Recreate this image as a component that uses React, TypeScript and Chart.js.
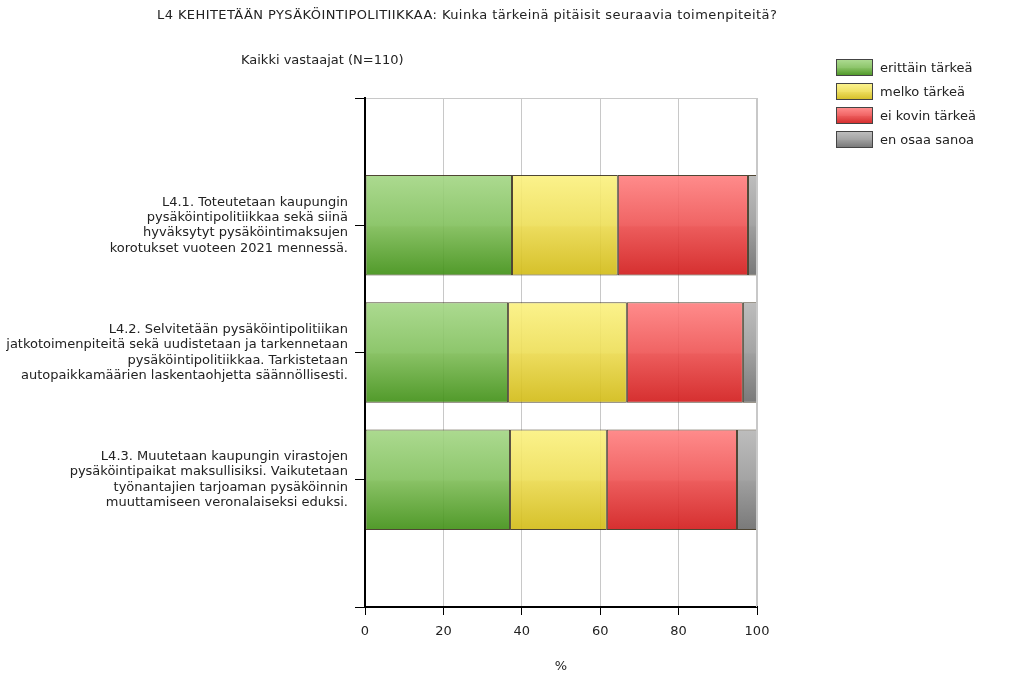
import React, { useEffect, useRef } from 'react';
import { Chart, registerables } from 'chart.js';
Chart.register(...registerables);

const TITLE = 'L4 KEHITETÄÄN PYSÄKÖINTIPOLITIIKKAA: Kuinka tärkeinä pitäisit seuraavia toimenpiteitä?';
const SUBTITLE = 'Kaikki vastaajat (N=110)';
const categories: string[][] = [
  ['L4.1. Toteutetaan kaupungin', 'pysäköintipolitiikkaa sekä siinä', 'hyväksytyt pysäköintimaksujen', 'korotukset vuoteen 2021 mennessä.'],
  ['L4.2. Selvitetään pysäköintipolitiikan', 'jatkotoimenpiteitä sekä uudistetaan ja tarkennetaan', 'pysäköintipolitiikkaa. Tarkistetaan', 'autopaikkamäärien laskentaohjetta säännöllisesti.'],
  ['L4.3. Muutetaan kaupungin virastojen', 'pysäköintipaikat maksullisiksi. Vaikutetaan', 'työnantajien tarjoaman pysäköinnin', 'muuttamiseen veronalaiseksi eduksi.'],
];
const seriesNames = ['erittäin tärkeä', 'melko tärkeä', 'ei kovin tärkeä', 'en osaa sanoa'];
const veryImportant = [37.5, 36.5, 37.0];
const fairlyImportant = [27.0, 30.3, 24.7];
const notVeryImportant = [33.2, 29.6, 33.2];
const cannotSay = [2.3, 3.6, 5.1];
const xMin = 0;
const xMax = 100;
const xStep = 20;
const xAxisTitle = '%';

const FONT = '"DejaVu Sans", Verdana, sans-serif';
const TEXT = '#222';
const BAR_PCT = 0.79;

type Stop = [number, string];
const palettes: Stop[][] = [
  [[0, '#acda90'], [0.5, '#8ec66c'], [0.52, '#88c164'], [1, '#519a2b']],
  [[0, '#fbf28c'], [0.5, '#efe167'], [0.52, '#ecdc5d'], [1, '#d6c12b']],
  [[0, '#ff8c8c'], [0.5, '#f06464'], [0.52, '#ec5c5c'], [1, '#d63030']],
  [[0, '#bdbdbd'], [0.5, '#a4a4a4'], [0.52, '#9f9f9f'], [1, '#7a7a7a']],
];

function withAlpha(hex: string, a: number) {
  const r = parseInt(hex.slice(1, 3), 16), g = parseInt(hex.slice(3, 5), 16), b = parseInt(hex.slice(5, 7), 16);
  // stored colour so that, blended over white with alpha a, it shows the target colour
  const f = (v: number) => Math.max(0, Math.min(255, Math.round((v - 255 * (1 - a)) / a)));
  return `rgba(${f(r)},${f(g)},${f(b)},${a})`;
}

const ALPHA = 0.9;

function makeFill(stops: Stop[]) {
  return (ctx: any) => {
    const chart = ctx.chart;
    const y = chart.scales && chart.scales.y;
    if (!chart.chartArea || !y || ctx.dataIndex === undefined) return withAlpha(stops[1][1], ALPHA);
    const c = y.getPixelForValue(ctx.dataIndex);
    const slot = Math.abs(y.getPixelForValue(1) - y.getPixelForValue(0));
    const half = (slot * BAR_PCT) / 2;
    const g = chart.ctx.createLinearGradient(0, c - half, 0, c + half);
    stops.forEach(([o, col]) => g.addColorStop(o, withAlpha(col, ALPHA)));
    return g;
  };
}

export default function App() {
  const ref = useRef<HTMLCanvasElement | null>(null);
  useEffect(() => {
    if (!ref.current) return;
    const labels: any[] = ['', ...categories, ''];
    const pad = (arr: number[]) => [null, ...arr, null];
    const series = [veryImportant, fairlyImportant, notVeryImportant, cannotSay];
    const chart = new Chart(ref.current, {
      type: 'bar',
      data: {
        labels,
        datasets: series.map((s, i) => ({
          label: seriesNames[i],
          data: pad(s) as any,
          backgroundColor: makeFill(palettes[i]) as any,
          borderColor: 'rgba(60,50,30,0.9)',
          borderWidth: 1,
          borderSkipped: false,
          barPercentage: BAR_PCT,
          categoryPercentage: 1,
        })),
      },
      options: {
        indexAxis: 'y',
        responsive: false,
        animation: false,
        layout: { padding: { top: 98, right: 267, left: 0, bottom: 0 } },
        plugins: { legend: { display: false }, tooltip: { enabled: false }, title: { display: false } },
        scales: {
          x: {
            type: 'linear',
            stacked: true,
            min: xMin,
            max: xMax,
            ticks: { stepSize: xStep, color: TEXT, font: { family: FONT, size: 13 }, padding: 9 },
            grid: {
              color: (c: any) => (c.index === 0 ? 'rgba(0,0,0,0)' : '#c8c8c8'),
              tickColor: '#000',
              tickLength: 8,
              lineWidth: 1,
            },
            border: { color: '#000', width: 2 },
            title: { display: true, text: xAxisTitle, color: TEXT, font: { family: FONT, size: 13 }, padding: { top: 0, bottom: 3 } },
            afterFit: (s: any) => { s.height = 70; },
          },
          y: {
            type: 'category',
            stacked: true,
            offset: false,
            ticks: { color: TEXT, font: { family: FONT, size: 13, lineHeight: 1.18 }, padding: 7, autoSkip: false },
            grid: {
              offset: false,
              color: (c: any) => (c.index === 0 ? '#c8c8c8' : 'rgba(0,0,0,0)'),
              tickColor: '#000',
              tickLength: 10,
              lineWidth: 1,
            },
            border: { color: '#000', width: 2 },
            afterFit: (s: any) => { s.width = 365; },
          },
        },
      },
      plugins: [
        {
          id: 'rightBorder',
          afterDraw(ch: any) {
            const { ctx, chartArea } = ch;
            ctx.save();
            ctx.strokeStyle = '#c8c8c8';
            ctx.lineWidth = 1;
            ctx.beginPath();
            ctx.moveTo(chartArea.right - 0.5, chartArea.top);
            ctx.lineTo(chartArea.right - 0.5, chartArea.bottom);
            ctx.stroke();
            ctx.restore();
          },
        },
      ],
    } as any);
    return () => chart.destroy();
  }, []);

  const legendGrad = (stops: Stop[]) =>
    `linear-gradient(to bottom, ${stops.map(([o, c]) => `${c} ${o * 100}%`).join(', ')})`;

  return (
    <div style={{ position: 'absolute', left: 0, top: 0, width: 1024, height: 677, background: '#fff', fontFamily: FONT, color: TEXT }}>
      <canvas ref={ref} width={1024} height={677} style={{ position: 'absolute', left: 0, top: 0 }} />
      <div style={{ position: 'absolute', left: 157, top: 7, fontSize: 13, letterSpacing: 0.42, whiteSpace: 'nowrap' }}>{TITLE}</div>
      <div style={{ position: 'absolute', left: 241, top: 52, fontSize: 13, whiteSpace: 'nowrap' }}>{SUBTITLE}</div>
      {seriesNames.map((n, i) => (
        <div key={n} style={{ position: 'absolute', left: 836, top: 58 + i * 24, height: 18, display: 'flex', alignItems: 'center', whiteSpace: 'nowrap', fontSize: 13 }}>
          <span style={{ display: 'inline-block', width: 35, height: 15, border: '1px solid #444', background: legendGrad(palettes[i]), marginRight: 7 }} />
          {n}
        </div>
      ))}
    </div>
  );
}
